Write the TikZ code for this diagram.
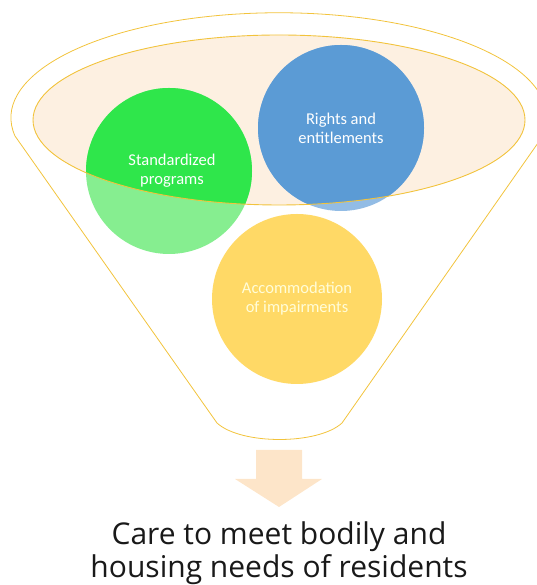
\documentclass[tikz,border=0pt]{standalone}
\usepackage{fontspec}
\setmainfont{Carlito}
\newfontfamily\carefont{Open Sans}
\definecolor{rimline}{HTML}{F2C33C}
\definecolor{rimfill}{HTML}{FDF0E1}
\definecolor{greenfull}{HTML}{2FE64B}
\definecolor{greenpale}{HTML}{86EE90}
\definecolor{bluefull}{HTML}{5B9BD5}
\definecolor{bluepale}{HTML}{92BCE5}
\definecolor{yellowfull}{HTML}{FFD966}
\definecolor{arrowfill}{HTML}{FDE5C9}
\tikzset{
  circtext/.style={align=center, text=white, font=\fontsize{16.5}{19}\selectfont},
  caretext/.style={anchor=base, text=black!90, font=\carefont\fontsize{30}{36}\selectfont}
}
\begin{document}
\begin{tikzpicture}[x=1pt,y=1pt]
\useasboundingbox (0,0) rectangle (536,585);
% rim of the funnel
\fill[rimfill] (279,465) ellipse [x radius=246, y radius=85];
% circles, pale where they leave the rim
\fill[greenpale] (169,414) circle (83);
\fill[bluepale] (341,457) circle (83);
\fill[yellowfull] (297,286) circle (85);
\begin{scope}
  \clip (279,465) ellipse [x radius=246, y radius=85];
  \fill[greenfull] (169,414) circle (83);
  \fill[bluefull] (341,457) circle (83);
\end{scope}
\draw[rimline, line width=0.9pt] (279,465) ellipse [x radius=246, y radius=85];
% funnel outline
\draw[rimline, line width=0.8pt] (217,162) -- (15,449)
  arc [start angle=190, end angle=-10, x radius=268, y radius=105]
  -- (342,162) .. controls (318,140) and (241,140) .. cycle;
% labels in the circles
\node[circtext] (stdprog) at (172,414) {Standardized\\programs};
\node[circtext] (rights) at (341,457) {Rights and\\entitlements};
\node[circtext, text=yellow!15] (accom) at (297,286) {Accommodation\\of impairments};
% arrow out of the funnel
\fill[arrowfill] (256,135) -- (302,135) -- (302,106) -- (322,106) -- (279,78)
  -- (235,106) -- (256,106) -- cycle;
\node[caretext] (care1) at (279,40) {Care to meet bodily and};
\node[caretext] (care2) at (279,7) {housing needs of residents};
\end{tikzpicture}
\end{document}
